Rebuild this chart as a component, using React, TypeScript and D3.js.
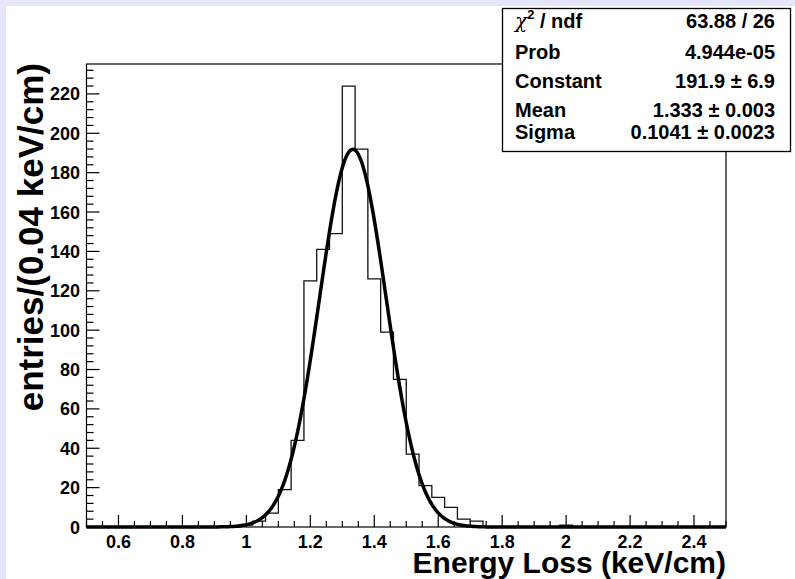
import React from "react";
import * as d3 from "d3";

// histogram: 50 bins of 0.04 keV/cm from 0.5 to 2.5
const binStart = 0.5;
const binWidth = 0.04;
const counts = [
  0, 0, 0, 0, 0, 0, 0, 0, 0, 0,
  0, 0, 1, 3, 7, 19, 44, 125, 141, 149,
  224, 192, 126, 99, 75, 37, 21, 15, 10, 4,
  3, 0, 0, 0, 0, 0, 0, 1, 0, 0,
  0, 0, 0, 0, 0, 0, 0, 0, 0, 0,
];

// gaussian fit result (from the stats box)
const fitConstant = 191.9;
const fitMean = 1.333;
const fitSigma = 0.1041;

const xTicks = [0.6, 0.8, 1, 1.2, 1.4, 1.6, 1.8, 2, 2.2, 2.4];
const yTicks = [0, 20, 40, 60, 80, 100, 120, 140, 160, 180, 200, 220];

const statLabels = ["χ", "Prob", "Constant", "Mean", "Sigma"];
const statValues = ["63.88 / 26", "4.944e-05", "191.9 ± 6.9", "1.333 ± 0.003", "0.1041 ± 0.0023"];

const W = 795;
const H = 579;
const left = 86.5, right = 726, top = 64, bottom = 527;
const font = "'Liberation Sans', Arial, Helvetica, sans-serif";

export default function App() {
  const x = d3.scaleLinear().domain([0.5, 2.5]).range([left, right]);
  const y = d3.scaleLinear().domain([0, 235.2]).range([bottom, top]);

  // step outline of the histogram
  let hd = `M${x(binStart)},${y(0)}`;
  counts.forEach((c, i) => {
    const x0 = x(binStart + i * binWidth);
    const x1 = x(binStart + (i + 1) * binWidth);
    hd += `L${x0},${y(c)}L${x1},${y(c)}`;
  });
  hd += `L${x(2.5)},${y(0)}`;

  const gaus = (v: number) =>
    fitConstant * Math.exp(-0.5 * ((v - fitMean) / fitSigma) ** 2);
  const fitLine = d3
    .line<number>()
    .x((d) => x(d))
    .y((d) => y(gaus(d)))
    .curve(d3.curveMonotoneX);
  const fitPts = d3.range(0.5, 2.5001, 0.005);

  const xMinor = d3.range(0.5, 2.5001, 0.05);
  const yMinor = d3.range(0, 235, 4);

  const rowY = [28, 58.5, 88, 116.5, 139];

  return (
    <svg
      width={W}
      height={H}
      style={{ position: "absolute", left: 0, top: 0 }}
      fontFamily={font}
      fontWeight="bold"
    >
      <rect x={0} y={0} width={W} height={H} fill="#e6e6fa" />
      <rect x={6} y={6} width={W} height={H} fill="#ffffff" />

      {/* frame */}
      <rect
        x={left}
        y={top}
        width={right - left}
        height={bottom - top}
        fill="none"
        stroke="#000"
        strokeWidth={1.2}
      />

      {/* x ticks */}
      {xMinor.map((v, i) => {
        const major = xTicks.some((t) => Math.abs(t - v) < 1e-6);
        return (
          <line
            key={"xm" + i}
            x1={x(v)}
            x2={x(v)}
            y1={bottom}
            y2={bottom - (major ? 12 : 6)}
            stroke="#000"
            strokeWidth={1.2}
          />
        );
      })}
      {xTicks.map((t) => (
        <text key={"xt" + t} x={x(t)} y={548} fontSize={18} textAnchor="middle">
          {t}
        </text>
      ))}

      {/* y ticks */}
      {yMinor.map((v) => (
        <line
          key={"ym" + v}
          x1={left}
          x2={left + (v % 20 === 0 ? 13 : 7)}
          y1={y(v)}
          y2={y(v)}
          stroke="#000"
          strokeWidth={1.2}
        />
      ))}
      {yTicks.map((t) => (
        <text key={"yt" + t} x={80} y={y(t) + 6.5} fontSize={18} textAnchor="end">
          {t}
        </text>
      ))}

      {/* histogram */}
      <path d={hd} fill="none" stroke="#111" strokeWidth={1.3} />

      {/* fit */}
      <path d={fitLine(fitPts) ?? ""} fill="none" stroke="#000" strokeWidth={3.5} />

      {/* axis titles */}
      <text x={726} y={573} fontSize={30} textAnchor="end">
        Energy Loss (keV/cm)
      </text>
      <text
        transform="translate(43,63) rotate(-90)"
        fontSize={35}
        textAnchor="end"
      >
        entries/(0.04 keV/cm)
      </text>

      {/* stats box */}
      <rect x={502.5} y={8.5} width={288} height={143} fill="#fff" stroke="#000" strokeWidth={1.3} />
      {statLabels.map((l, i) =>
        i === 0 ? (
          <text key="l0" x={515} y={rowY[0]} fontSize={20}>
            <tspan fontWeight="normal" fontFamily="'DejaVu Serif', serif" fontStyle="italic">χ</tspan>
            <tspan fontSize={13} dy={-9}>2</tspan>
            <tspan dy={9}> / ndf</tspan>
          </text>
        ) : (
          <text key={"l" + i} x={515} y={rowY[i]} fontSize={20}>
            {l}
          </text>
        )
      )}
      {statValues.map((v, i) => (
        <text key={"v" + i} x={775} y={rowY[i]} fontSize={20} textAnchor="end">
          {v}
        </text>
      ))}
    </svg>
  );
}
